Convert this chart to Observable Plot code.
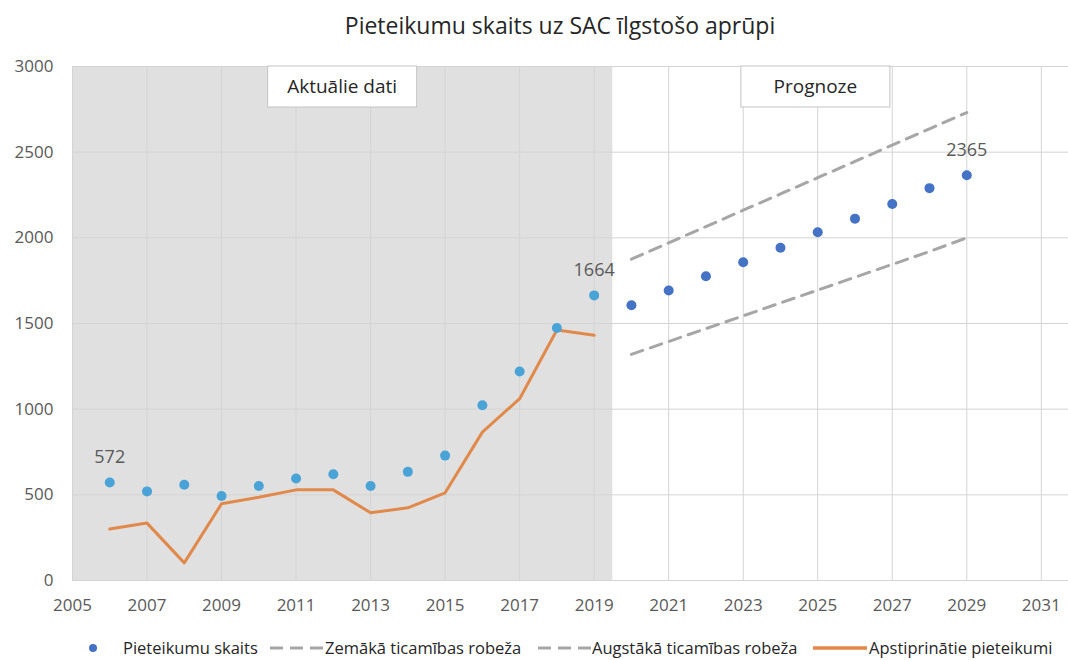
<!DOCTYPE html>
<html>
<head>
<meta charset="utf-8">
<script src="https://cdn.jsdelivr.net/npm/d3@7"></script>
<script src="https://cdn.jsdelivr.net/npm/@observablehq/plot@0.6"></script>
<style>
  html, body { margin: 0; padding: 0; background: #fff; }
  body { width: 1068px; height: 660px; overflow: hidden; font-family: "Open Sans", sans-serif; position: relative; }
  #title { height: 50px; line-height: 50px; text-align: center; padding-left: 52px; font-size: 23px; color: #262626; box-sizing: border-box; width: 1068px; white-space: nowrap; }
  #chart { height: 570px; }
  #legend { position: absolute; top: 620px; left: 0; width: 1068px; height: 40px; font-size: 16.5px; color: #262626; }
  .li { position: absolute; top: 16px; line-height: 24px; white-space: nowrap; }
  .sw { position: absolute; }
</style>
</head>
<body>
<div id="title">Pieteikumu skaits uz SAC īlgstošo aprūpi</div>
<div id="chart"></div>
<div id="legend"></div>
<script>
// ---- Data ----
const actualYears = [2006, 2007, 2008, 2009, 2010, 2011, 2012, 2013, 2014, 2015, 2016, 2017, 2018, 2019];
const actualApplications = [572, 520, 559, 493, 552, 595, 620, 552, 634, 729, 1023, 1220, 1474, 1664];
const approvedApplications = [300, 335, 103, 448, 486, 529, 529, 395, 424, 512, 866, 1061, 1462, 1431];
const forecastYears = [2020, 2021, 2022, 2023, 2024, 2025, 2026, 2027, 2028, 2029];
const forecastApplications = [1606, 1693, 1776, 1857, 1942, 2033, 2112, 2197, 2290, 2365];
const lowerBound = [1320, 1395, 1470, 1545, 1620, 1695, 1770, 1845, 1920, 2000];
const upperBound = [1876, 1971, 2066, 2161, 2256, 2351, 2446, 2541, 2636, 2731];
const xTicks = [2005, 2007, 2009, 2011, 2013, 2015, 2017, 2019, 2021, 2023, 2025, 2027, 2029, 2031];
const yTicks = [0, 500, 1000, 1500, 2000, 2500, 3000];
const actualPeriod = {start: 2005, end: 2019.5};
const periodLabels = ["Aktuālie dati", "Prognoze"];
const periodLabelYears = [2012.25, 2024.95];
const labelledPoints = [
  {year: 2006, value: 572},
  {year: 2019, value: 1664},
  {year: 2029, value: 2365}
];
const legendLabels = ["Pieteikumu skaits", "Zemākā ticamības robeža", "Augstākā ticamības robeža", "Apstiprinātie pieteikumi"];
const legendKinds = ["dot", "dash", "dash", "line"];

const actual = actualYears.map((y, i) => ({year: y, apps: actualApplications[i], approved: approvedApplications[i]}));
const forecast = forecastYears.map((y, i) => ({year: y, apps: forecastApplications[i], lo: lowerBound[i], hi: upperBound[i]}));

const colActual = "#4aa3d6";
const colForecast = "#4472c4";
const colOrange = "#e0894a";
const colDash = "#a6a6a6";
const colGrid = "#d4d4d4";
const colText = "#595959";

const chart = Plot.plot({
  width: 1068,
  height: 570,
  marginTop: 16,
  marginLeft: 72,
  marginRight: 0,
  marginBottom: 40,
  style: {fontFamily: "Open Sans, sans-serif", fontSize: "17px", color: colText, background: "white"},
  x: {domain: [2005, 2031.73], label: null},
  y: {domain: [0, 3000], label: null},
  marks: [
    Plot.rect([actualPeriod], {x1: "start", x2: "end", y1: 0, y2: 3000, fill: "#e0e0e0"}),
    Plot.ruleX(xTicks, {stroke: colGrid, strokeWidth: 1}),
    Plot.ruleY(yTicks, {stroke: colGrid, strokeWidth: 1}),
    Plot.line(forecast, {x: "year", y: "lo", stroke: colDash, strokeWidth: 3, strokeDasharray: "12,8"}),
    Plot.line(forecast, {x: "year", y: "hi", stroke: colDash, strokeWidth: 3, strokeDasharray: "12,8"}),
    Plot.line(actual, {x: "year", y: "approved", stroke: colOrange, strokeWidth: 3}),
    Plot.dot(actual, {x: "year", y: "apps", r: 5, fill: colActual}),
    Plot.dot(forecast, {x: "year", y: "apps", r: 5, fill: colForecast}),
    Plot.text(labelledPoints, {x: "year", y: "value", text: d => String(d.value), dy: -25, fill: colText, fontSize: 18}),
    Plot.axisX({ticks: xTicks, tickFormat: d => String(d), tickSize: 0, tickPadding: 18, label: null, fill: colText}),
    Plot.axisY({ticks: yTicks, tickFormat: d => String(d), tickSize: 0, tickPadding: 19, label: null, fill: colText})
  ]
});

// Period annotation boxes, positioned from the chart's own scales
const xs = chart.scale("x");
const ys = chart.scale("y");
const svg = d3.select(chart);
const g = svg.append("g");
periodLabels.forEach((label, i) => {
  const cx = xs.apply(periodLabelYears[i]);
  const top = ys.apply(3000);
  const w = 149, h = 41;
  g.append("rect").attr("x", cx - w / 2).attr("y", top).attr("width", w).attr("height", h)
    .attr("fill", "white").attr("stroke", "#c4c4c4").attr("stroke-width", 1);
  g.append("text").attr("x", cx).attr("y", top + h / 2).attr("dy", "0.35em")
    .attr("text-anchor", "middle").attr("fill", "#262626").attr("font-size", 19)
    .attr("font-family", "Open Sans, sans-serif").text(label);
});

document.getElementById("chart").appendChild(chart);

// Legend
const legend = document.getElementById("legend");
const legendSwatchX = [93, 270, 538, 813];
const legendTextX = [123, 325, 592, 869];
legendLabels.forEach((label, i) => {
  const kind = legendKinds[i];
  const sw = document.createElementNS("http://www.w3.org/2000/svg", "svg");
  sw.setAttribute("class", "sw");
  sw.setAttribute("width", 56);
  sw.setAttribute("height", 12);
  sw.style.left = (legendSwatchX[i] - (kind === "dot" ? 6 : 0)) + "px";
  sw.style.top = "22px";
  if (kind === "dot") {
    sw.innerHTML = `<circle cx="6" cy="6" r="4" fill="${colForecast}"/>`;
  } else if (kind === "dash") {
    sw.innerHTML = `<line x1="0" y1="6" x2="53" y2="6" stroke="${colDash}" stroke-width="3" stroke-dasharray="13,7"/>`;
  } else {
    sw.innerHTML = `<line x1="0" y1="6" x2="54" y2="6" stroke="${colOrange}" stroke-width="3.5"/>`;
  }
  legend.appendChild(sw);
  const t = document.createElement("div");
  t.className = "li";
  t.style.left = legendTextX[i] + "px";
  t.textContent = label;
  legend.appendChild(t);
});
</script>
</body>
</html>
